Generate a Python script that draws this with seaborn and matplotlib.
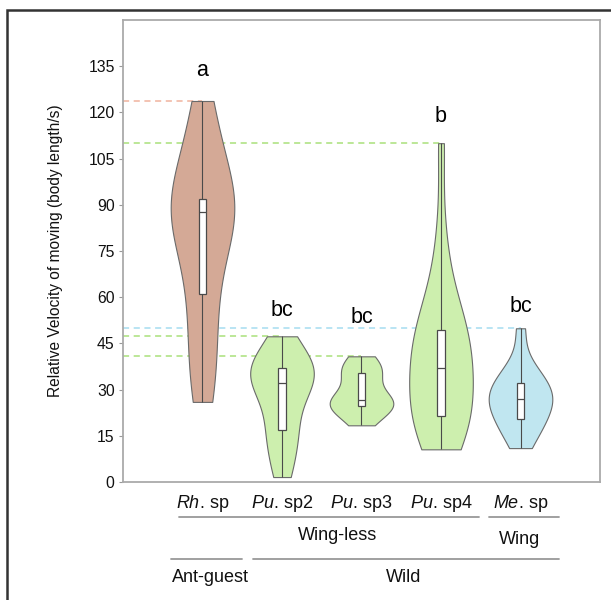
import numpy as np
import pandas as pd
import matplotlib
matplotlib.use("Agg")
import matplotlib.pyplot as plt
from matplotlib.patches import Rectangle
from matplotlib.lines import Line2D
import seaborn as sns

# ---------------- data ----------------
species = ["Rh. sp", "Pu. sp2", "Pu. sp3", "Pu. sp4", "Me. sp"]
genus = ["Rh", "Pu", "Pu", "Pu", "Me"]
suffix = ["sp", "sp2", "sp3", "sp4", "sp"]
letters = ["a", "bc", "bc", "b", "bc"]
letter_gap = [10, 8.4, 12.7, 8.7, 7.1]

rh_sp = [26, 31, 37, 44, 52, 60, 64, 72, 80, 85, 87, 88, 88, 89, 90, 91, 92, 100, 106, 112, 118, 123.7]
pu_sp2 = [1.6, 6, 12, 16, 17, 22, 28, 31, 32, 34, 35, 36, 37, 38, 40, 43, 47.3]
pu_sp3 = [18.4, 21, 23, 24, 25, 25.5, 26, 26.5, 27, 29, 33, 35, 36, 37, 39, 40.8]
pu_sp4 = [10.6, 13, 16, 19, 20, 21, 23, 26, 30, 33, 36, 38, 42, 44, 46, 48, 50, 53, 58, 66, 80, 110]
me_sp = [11, 15, 18, 20, 21, 24, 26, 27, 28, 29, 31, 33, 35, 38, 49.9]

groups = [rh_sp, pu_sp2, pu_sp3, pu_sp4, me_sp]

fill_colors = ["#D4A996", "#CDEFAE", "#CDEFAE", "#CDEFAE", "#C0E6F0"]
dash_colors = ["#F0B39E", "#A9E07A", "#A9E07A", "#A9E07A", "#A6DDF0"]

yticks = list(range(0, 136, 15))

# ---------------- style ----------------
sns.set_theme(style="white")
plt.rcParams["font.family"] = ["Liberation Sans", "DejaVu Sans"]
plt.rcParams["mathtext.fontset"] = "custom"
plt.rcParams["mathtext.it"] = "Liberation Sans:italic"
plt.rcParams["mathtext.rm"] = "Liberation Sans"

df = pd.DataFrame({
    "species": np.repeat(species, [len(g) for g in groups]),
    "value": np.concatenate([np.asarray(g, dtype=float) for g in groups]),
})

fig = plt.figure(figsize=(6.11, 6.0), dpi=100)
ax = fig.add_axes([0.2013, 0.1967, 0.7807, 0.77])

XMIN, XMAX = -1.0, 5.0

# dashed reference lines at each group's maximum
for i, g in enumerate(groups):
    ax.axhline(max(g), xmin=0, xmax=(i - XMIN) / (XMAX - XMIN),
               color=dash_colors[i], ls=(0, (4, 3)), lw=1.1, zorder=0.5)

sns.violinplot(data=df, x="species", y="value", order=species, hue="species",
               hue_order=species, palette=fill_colors, legend=False,
               cut=0, inner=None, density_norm="width", width=0.8,
               bw_adjust=1.0, linewidth=0.8, linecolor="#6a6a6a", saturation=1,
               ax=ax)

sns.boxplot(data=df, x="species", y="value", order=species, width=0.1,
            whis=(0, 100), showcaps=False, showfliers=False,
            boxprops=dict(facecolor="white", edgecolor="#4a4a4a", linewidth=0.9),
            whiskerprops=dict(color="#4a4a4a", linewidth=0.8),
            medianprops=dict(color="#4a4a4a", linewidth=0.9),
            ax=ax)

for i, g in enumerate(groups):
    ax.text(i, max(g) + letter_gap[i], letters[i], ha="center", va="center",
            fontsize=15.5, color="black")

ax.set_xlim(XMIN, XMAX)
ax.set_ylim(0, 150)
ax.set_yticks(yticks)
ax.set_yticklabels([str(t) for t in yticks], fontsize=11.3, color="#111111")
ax.set_xticks(range(len(species)))
ax.set_xticklabels([f"$\\mathit{{{g}}}$. {s}" for g, s in zip(genus, suffix)],
                   fontsize=13, color="#111111")
ax.tick_params(axis="y", which="both", left=True, length=3, width=0.8,
               color="#999999", pad=3)
ax.tick_params(axis="x", length=0, pad=8)
ax.set_xlabel("")
ax.set_ylabel("Relative Velocity of moving (body length/s)", fontsize=11.2,
              color="#111111", labelpad=18)
for sp in ax.spines.values():
    sp.set_visible(True)
    sp.set_color("#aaaaaa")
    sp.set_linewidth(1.3)

# grouping lines and labels below the axis
trans = matplotlib.transforms.blended_transform_factory(ax.transData, fig.transFigure)
line_specs = [(-0.29, 3.48, 0.139), (3.61, 4.48, 0.139),
              (-0.39, 0.50, 0.068), (0.63, 4.48, 0.068)]
for x0, x1, yy in line_specs:
    fig.add_artist(Line2D([x0, x1], [yy, yy], transform=trans,
                          color="#999999", lw=1.3, clip_on=False))
text_specs = [(1.70, 0.108, "Wing-less"), (3.99, 0.100, "Wing"),
              (0.10, 0.037, "Ant-guest"), (2.53, 0.037, "Wild")]
for xx, yy, s in text_specs:
    fig.text(xx, yy, s, transform=trans, ha="center", va="center",
             fontsize=13, color="#111111")

# outer frame
fig.add_artist(Rectangle((0.0115, -0.05), 1.2, 1.0333, transform=fig.transFigure,
                         fill=False, edgecolor="#333333", lw=1.8, clip_on=False))

fig.savefig("out.png", dpi=100)
